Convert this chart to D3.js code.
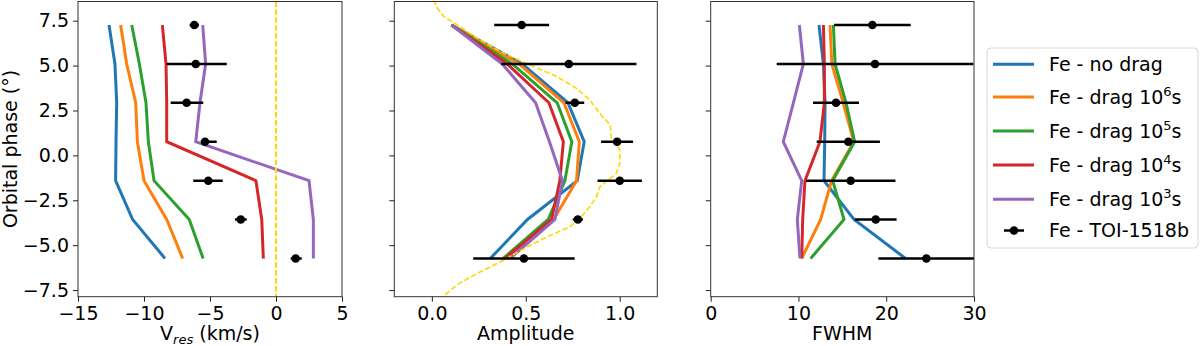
<!DOCTYPE html>
<html>
<head>
<meta charset="utf-8">
<script src="https://cdn.jsdelivr.net/npm/d3@7"></script>
<style>
body { margin: 0; background: #fff; }
svg { font-family: "DejaVu Sans", sans-serif; }
</style>
</head>
<body>
<svg id="svg1" width="1200" height="346"></svg>
<script>
// orbital phase of each exposure (deg), shared by all panels
var phases = [7.26, 5.09, 2.93, 0.76, -1.41, -3.57, -5.74];

// model series: no drag, then drag timescales 10^6 .. 10^3 s
var dragPowers = [null, 6, 5, 4, 3];
var seriesColors = ["#1f77b4", "#ff7f0e", "#2ca02c", "#d62728", "#9467bd"];

var vresNoDrag = [-12.65, -12.2, -12.07, -12.12, -12.15, -10.86, -8.41];
var vresDrag6 = [-11.77, -11.31, -10.63, -10.5, -10.0, -8.28, -7.07];
var vresDrag5 = [-10.93, -10.35, -9.85, -9.67, -9.24, -6.57, -5.52];
var vresDrag4 = [-8.61, -8.33, -8.28, -8.28, -1.52, -1.08, -0.96];
var vresDrag3 = [-5.55, -5.33, -5.76, -6.08, 2.5, 2.83, 2.83];

var ampNoDrag = [0.104, 0.481, 0.724, 0.811, 0.774, 0.509, 0.311];
var ampDrag6 = [0.104, 0.464, 0.703, 0.785, 0.770, 0.648, 0.389];
var ampDrag5 = [0.104, 0.428, 0.667, 0.745, 0.708, 0.619, 0.380];
var ampDrag4 = [0.104, 0.401, 0.623, 0.700, 0.681, 0.637, 0.389];
var ampDrag3 = [0.104, 0.375, 0.552, 0.626, 0.695, 0.655, 0.416];

var fwhmNoDrag = [12.34, 12.84, 13.03, 12.99, 12.91, 16.33, 22.2];
var fwhmDrag6 = [13.6, 13.8, 15.1, 16.3, 13.78, 12.53, 10.37];
var fwhmDrag5 = [13.98, 14.17, 15.42, 16.4, 13.9, 15.19, 11.39];
var fwhmDrag4 = [12.84, 12.95, 12.95, 12.45, 10.74, 10.48, 10.37];
var fwhmDrag3 = [10.1, 10.56, 9.42, 8.27, 10.37, 9.87, 10.17];

// TOI-1518b measurements
var vresObs = [-6.19, -6.08, -6.77, -5.38, -5.13, -2.67, 1.49];
var vresErrLo = [0.35, 2.2, 1.21, 0.3, 1.14, 0.44, 0.38];
var vresErrHi = [0.35, 2.35, 1.26, 0.89, 1.09, 0.45, 0.46];

var ampObs = [0.478, 0.729, 0.761, 0.986, 1.0, 0.777, 0.49];
var ampErr = [0.146, 0.36, 0.05, 0.085, 0.118, 0.027, 0.27];

var fwhmObs = [18.42, 18.72, 14.28, 15.68, 15.95, 18.8, 24.57];
var fwhmErr = [4.37, 11.2, 2.62, 3.6, 5.1, 2.38, 5.47];

// dashed reference profile in the amplitude panel
var refPhase = [8.65, 8.19, 7.72, 7.26, 6.52, 5.68, 5.03, 4.38, 3.73, 3.08, 2.34, 1.69, 0.85, 0.33, -0.45, -1.0, -1.75, -2.31, -2.86, -3.51, -3.98, -4.5, -5.09, -5.83, -6.57, -7.13, -7.88];
var refAmp = [0.009, 0.030, 0.065, 0.136, 0.242, 0.384, 0.525, 0.667, 0.770, 0.841, 0.894, 0.950, 0.956, 1.0, 1.0, 0.982, 0.894, 0.876, 0.840, 0.788, 0.734, 0.62, 0.508, 0.384, 0.242, 0.145, 0.056];

var phaseTicks = [-7.5, -5, -2.5, 0, 2.5, 5, 7.5];
var vresTicks = [-15, -10, -5, 0, 5];
var ampTicks = [0, 0.5, 1];
var fwhmTicks = [0, 10, 20, 30];

var svg = d3.select("svg#svg1");
var plotTop = 1.5;
var plotBottom = 296.7;

var y = d3.scaleLinear()
  .domain([-7.87, 8.57])
  .range([plotBottom, plotTop]);

var panels = [
  {id: "vres", left: 78, right: 342, domain: [-15, 5], ticks: vresTicks, fmt: d3.format("d"),
   models: [vresNoDrag, vresDrag6, vresDrag5, vresDrag4, vresDrag3],
   obs: vresObs, lo: vresErrLo, hi: vresErrHi, yLabels: true},
  {id: "amp", left: 394.3, right: 657.3, domain: [-0.2, 1.2], ticks: ampTicks, fmt: d3.format(".1f"),
   models: [ampNoDrag, ampDrag6, ampDrag5, ampDrag4, ampDrag3],
   obs: ampObs, lo: ampErr, hi: ampErr, yLabels: false},
  {id: "fwhm", left: 710.7, right: 974, domain: [0, 30], ticks: fwhmTicks, fmt: d3.format("d"),
   models: [fwhmNoDrag, fwhmDrag6, fwhmDrag5, fwhmDrag4, fwhmDrag3],
   obs: fwhmObs, lo: fwhmErr, hi: fwhmErr, yLabels: false}
];

var translate = function(x, y) {
  return "translate(" + String(x) + ", " + String(y) + ")";
};

var drawPanel = function(p) {
  var x = d3.scaleLinear().domain(p.domain).range([p.left, p.right]);
  var g = svg.append("g").attr("id", p.id);

  g.append("clipPath").attr("id", "clip-" + p.id)
    .append("rect")
    .attr("x", p.left).attr("y", plotTop)
    .attr("width", p.right - p.left).attr("height", plotBottom - plotTop);

  var inner = g.append("g").attr("clip-path", "url(#clip-" + p.id + ")");

  var line = d3.line()
    .x(function(d) { return x(d[0]); })
    .y(function(d) { return y(d[1]); });

  p.models.forEach(function(vals, i) {
    inner.append("path")
      .datum(d3.zip(vals, phases))
      .attr("d", line)
      .attr("fill", "none")
      .attr("stroke", seriesColors[i])
      .attr("stroke-width", 3)
      .attr("stroke-linejoin", "miter");
  });

  if (p.id == "vres") {
    inner.append("line")
      .attr("x1", x(0)).attr("x2", x(0))
      .attr("y1", plotTop).attr("y2", plotBottom)
      .attr("stroke", "#ffd700")
      .attr("stroke-width", 2)
      .attr("stroke-dasharray", "5.5,2.4");
  }
  if (p.id == "amp") {
    inner.append("path")
      .datum(d3.zip(refAmp, refPhase))
      .attr("d", line)
      .attr("fill", "none")
      .attr("stroke", "#ffd700")
      .attr("stroke-width", 1.6)
      .attr("stroke-dasharray", "5.5,2.4");
  }

  var pts = d3.range(phases.length).map(function(i) {
    return {v: p.obs[i], lo: p.lo[i], hi: p.hi[i], ph: phases[i]};
  });

  inner.selectAll("line.err")
    .data(pts)
    .enter().append("line")
    .attr("class", "err")
    .attr("x1", function(d) { return x(d.v - d.lo); })
    .attr("x2", function(d) { return x(d.v + d.hi); })
    .attr("y1", function(d) { return y(d.ph); })
    .attr("y2", function(d) { return y(d.ph); })
    .attr("stroke", "black")
    .attr("stroke-width", 2.5);

  inner.selectAll("circle.obs")
    .data(pts)
    .enter().append("circle")
    .attr("class", "obs")
    .attr("cx", function(d) { return x(d.v); })
    .attr("cy", function(d) { return y(d.ph); })
    .attr("r", 4.3)
    .attr("fill", "black");

  // axes
  var xAxis = d3.axisBottom(x).tickValues(p.ticks).tickFormat(p.fmt)
    .tickSize(5).tickPadding(5).tickSizeOuter(0);
  var yAxis = d3.axisLeft(y).tickValues(phaseTicks)
    .tickFormat(p.yLabels ? d3.format(".1f") : "")
    .tickSize(5).tickPadding(4).tickSizeOuter(0);

  var gx = g.append("g")
    .attr("transform", translate(0, plotBottom))
    .call(xAxis);
  var gy = g.append("g")
    .attr("transform", translate(p.left, 0))
    .call(yAxis);

  [gx, gy].forEach(function(a) {
    a.select(".domain").remove();
    a.selectAll("text").attr("font-size", 19).attr("fill", "black")
      .attr("font-family", "DejaVu Sans");
    a.selectAll("line").attr("stroke", "#222");
  });

  g.append("rect")
    .attr("x", p.left).attr("y", plotTop)
    .attr("width", p.right - p.left).attr("height", plotBottom - plotTop)
    .attr("fill", "none")
    .attr("stroke", "#333")
    .attr("stroke-width", 1);

  return x;
};

panels.forEach(drawPanel);

// axis labels
var xl = svg.append("text")
  .attr("x", 210).attr("y", 340)
  .attr("text-anchor", "middle")
  .attr("font-size", 19);
xl.append("tspan").text("V");
xl.append("tspan").attr("font-size", 13).attr("font-style", "italic").attr("dy", 4).text("res");
xl.append("tspan").attr("dy", -4).text(" (km/s)");

svg.append("text")
  .attr("x", 525.8).attr("y", 340)
  .attr("text-anchor", "middle")
  .attr("font-size", 19)
  .text("Amplitude");

svg.append("text")
  .attr("x", 842.3).attr("y", 340)
  .attr("text-anchor", "middle")
  .attr("font-size", 19)
  .text("FWHM");

svg.append("text")
  .attr("transform", translate(16.5, 149) + " rotate(-90)")
  .attr("text-anchor", "middle")
  .attr("font-size", 19)
  .text("Orbital phase (\u00b0)");

// legend
var legend = svg.append("g").attr("id", "legend");
legend.append("rect")
  .attr("x", 987).attr("y", 48)
  .attr("width", 211).attr("height", 200)
  .attr("rx", 4)
  .attr("fill", "white")
  .attr("stroke", "#d6d6d6")
  .attr("stroke-width", 1);

var rowY = [64.3, 97, 131, 165, 199.3, 230.5];

dragPowers.forEach(function(pw, i) {
  legend.append("line")
    .attr("x1", 993).attr("x2", 1034)
    .attr("y1", rowY[i]).attr("y2", rowY[i])
    .attr("stroke", seriesColors[i])
    .attr("stroke-width", 3);
  var t = legend.append("text")
    .attr("x", 1049).attr("y", rowY[i])
    .attr("dy", "0.35em")
    .attr("font-size", 19);
  if (pw == null) {
    t.text("Fe - no drag");
  } else {
    t.append("tspan").text("Fe - drag 10");
    t.append("tspan").attr("font-size", 13).attr("dy", -8).text(String(pw));
    t.append("tspan").attr("dy", 8).text("s");
  }
});

var last = rowY[5];
legend.append("line")
  .attr("x1", 1004).attr("x2", 1024)
  .attr("y1", last).attr("y2", last)
  .attr("stroke", "black")
  .attr("stroke-width", 2.5);
legend.append("circle")
  .attr("cx", 1014).attr("cy", last)
  .attr("r", 4.3)
  .attr("fill", "black");
legend.append("text")
  .attr("x", 1049).attr("y", last)
  .attr("dy", "0.35em")
  .attr("font-size", 19)
  .text("Fe - TOI-1518b");
</script>
</body>
</html>
